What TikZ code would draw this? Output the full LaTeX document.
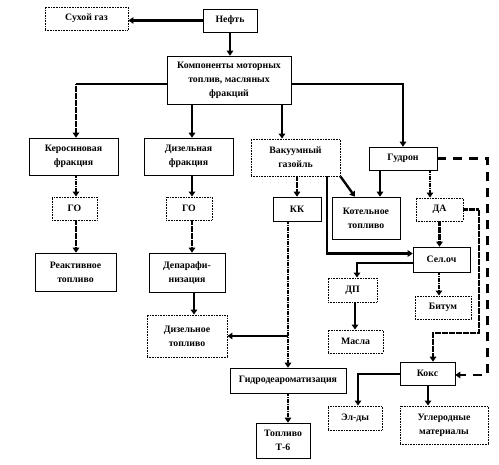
\documentclass[tikz,border=0pt]{standalone}
\usepackage{fontspec}
\setmainfont{Liberation Serif}
\usetikzlibrary{arrows.meta}
\begin{document}
\begin{tikzpicture}[x=1pt,y=-1pt,
  box/.style={draw, line width=0.6pt, align=center, inner sep=0pt, font=\fontsize{9.8}{14}\selectfont\bfseries},
  dbox/.style={box, densely dotted, line width=0.9pt},
  arr/.style={line width=2.4pt, -{Triangle[length=5pt,width=6.5pt]}},
  tarr/.style={arr, dash pattern=on 1.4pt off 0.35pt},
  dash arr/.style={arr, dash pattern=on 9pt off 7pt}]
\useasboundingbox (0,0) rectangle (499,465);
% nodes
\node[dbox, minimum width=83pt, minimum height=23pt] (suh) at (86.5,18.5) {Сухой газ};
\node[box, minimum width=54pt, minimum height=23pt] (neft) at (230,20.5) {Нефть};
\node[box, minimum width=124pt, minimum height=48pt] (komp) at (229,80) {Компоненты моторных\\топлив, масляных\\фракций};
\node[box, minimum width=89pt, minimum height=37pt] (ker) at (73.5,156.5) {Керосиновая\\фракция};
\node[box, minimum width=89pt, minimum height=37pt] (dizf) at (188.5,156.5) {Дизельная\\фракция};
\node[dbox, minimum width=89pt, minimum height=37pt] (vak) at (295.5,157.5) {Вакуумный\\газойль};
\node[box, minimum width=68pt, minimum height=23pt] (gud) at (403,158.5) {Гудрон};
\node[dbox, minimum width=45pt, minimum height=23pt] (go1) at (74.5,208.5) {ГО};
\node[dbox, minimum width=46pt, minimum height=23pt] (go2) at (189,208.5) {ГО};
\node[box, minimum width=48pt, minimum height=24pt] (kk) at (297,209) {КК};
\node[box, minimum width=68pt, minimum height=42pt] (kot) at (366,218) {Котельное\\топливо};
\node[dbox, minimum width=47pt, minimum height=23pt] (da) at (439.5,209.5) {ДА};
\node[box, minimum width=81pt, minimum height=38pt] (reakt) at (75.5,272) {Реактивное\\топливо};
\node[box, minimum width=76pt, minimum height=39pt] (depar) at (187,272.5) {Депарафи-\\низация};
\node[box, minimum width=57pt, minimum height=25pt] (sel) at (441.5,259.5) {Сел.оч};
\node[dbox, minimum width=49pt, minimum height=24pt] (dp) at (352.5,290) {ДП};
\node[dbox, minimum width=56pt, minimum height=23pt] (bit) at (443,307.5) {Битум};
\node[dbox, minimum width=55pt, minimum height=23pt] (masla) at (355.5,341.5) {Масла};
\node[dbox, minimum width=80pt, minimum height=42pt] (dizt) at (187,336) {Дизельное\\топливо};
\node[box, minimum width=116pt, minimum height=25pt] (gdar) at (288,380.5) {Гидродеароматизация};
\node[box, minimum width=55pt, minimum height=23pt] (koks) at (427.5,373.5) {Кокс};
\node[dbox, minimum width=54pt, minimum height=24pt] (eld) at (355,418) {Эл-ды};
\node[dbox, minimum width=88pt, minimum height=38pt] (ugl) at (444,425) {Углеродные\\материалы};
\node[box, minimum width=54pt, minimum height=35pt] (t6) at (283,440.5) {Топливо\\Т-6};
% helper coordinates
\coordinate (c1) at ([yshift=-4pt]komp.west);
\coordinate (c2) at ([xshift=2.5pt]ker.north);
\coordinate (c3) at ([xshift=3.5pt]dizf.north);
\coordinate (c4) at ([xshift=-13.5pt]vak.north);
\coordinate (c5) at ([yshift=-4pt]komp.east);
\coordinate (c6) at ([xshift=2.5pt]ker.south);
\coordinate (c7) at ([xshift=3pt]go2.south);
\coordinate (c8) at ([xshift=7pt]depar.south);
\coordinate (c9) at ([xshift=-11pt]kot.north);
\coordinate (c10) at ([xshift=31.5pt]vak.south);
\coordinate (c11) at ([yshift=6pt]sel.west);
\coordinate (c12) at ([xshift=-23pt]gud.south);
\coordinate (c13) at ([xshift=27pt]gud.south);
\coordinate (c14) at ([xshift=32pt,yshift=-1.5pt]koks.east);
\coordinate (c15) at ([yshift=-1.5pt]koks.east);
\coordinate (c16) at (479,333);
\coordinate (c17) at ([xshift=5.5pt]koks.north);
\coordinate (c18) at ([yshift=-3.5pt]sel.west);
\coordinate (c19) at ([xshift=4.5pt]dp.north);
\coordinate (c20) at ([xshift=-2.5pt]sel.south);
\coordinate (c21) at ([xshift=2.5pt]dp.south);
\coordinate (c22) at ([xshift=-9pt]kk.south);
\coordinate (c23) at ([yshift=-0.5pt]koks.west);
\coordinate (c24) at ([xshift=3pt]eld.north);
\coordinate (c25) at ([xshift=0.5pt]koks.south);
\coordinate (c26) at ([xshift=1.5pt]go1.south);
% connectors
\draw[arr] (neft.west) -- (neft.west -| suh.east);
\draw[arr] (neft.south) -- (neft.south |- komp.north);
\draw[line width=2.4pt] (c1) -- (c1 -| c2);
\draw[tarr] (c1 -| c2) -- (c2);
\draw[arr] (c3 |- komp.south) -- (c3);
\draw[arr] (c4 |- komp.south) -- (c4);
\draw[arr] (c5) -| (gud.north);
\draw[tarr] (c6) -- (c6 |- go1.north);
\draw[tarr] (c26) -- (c26 |- reakt.north);
\draw[arr] (c3 |- dizf.south) -- (c3 |- go2.north);
\draw[tarr] (c7) -- (c7 |- depar.north);
\draw[arr] (c8) -- (c8 |- dizt.north);
\draw[tarr] (kk.north |- vak.south) -- (kk.north);
\draw[tarr] (vak.south east) -- (c9);
\draw[arr] (c10) |- (c11);
\draw[arr] (c12) -- (c12 |- kot.north);
\draw[tarr] (c13) -- (c13 |- da.north);
\draw[dash arr] (gud.east) -| (c14) -- (c15);
\draw[tarr] (da.east) -| (c16) -| (c17);
\draw[tarr] (da.south) -- (da.south |- sel.north);
\draw[arr] (c18) -| (c19);
\draw[tarr] (c20) -- (c20 |- bit.north);
\draw[arr] (c21) -- (c21 |- masla.north);
\draw[tarr] (c22) -- (c22 |- gdar.north);
\draw[arr] (dizt.east -| c22) -- (dizt.east);
\draw[tarr] (gdar.south) -- (gdar.south |- t6.north);
\draw[arr] (c23) -| (c24);
\draw[arr] (c25) -- (c25 |- ugl.north);
\end{tikzpicture}
\end{document}
